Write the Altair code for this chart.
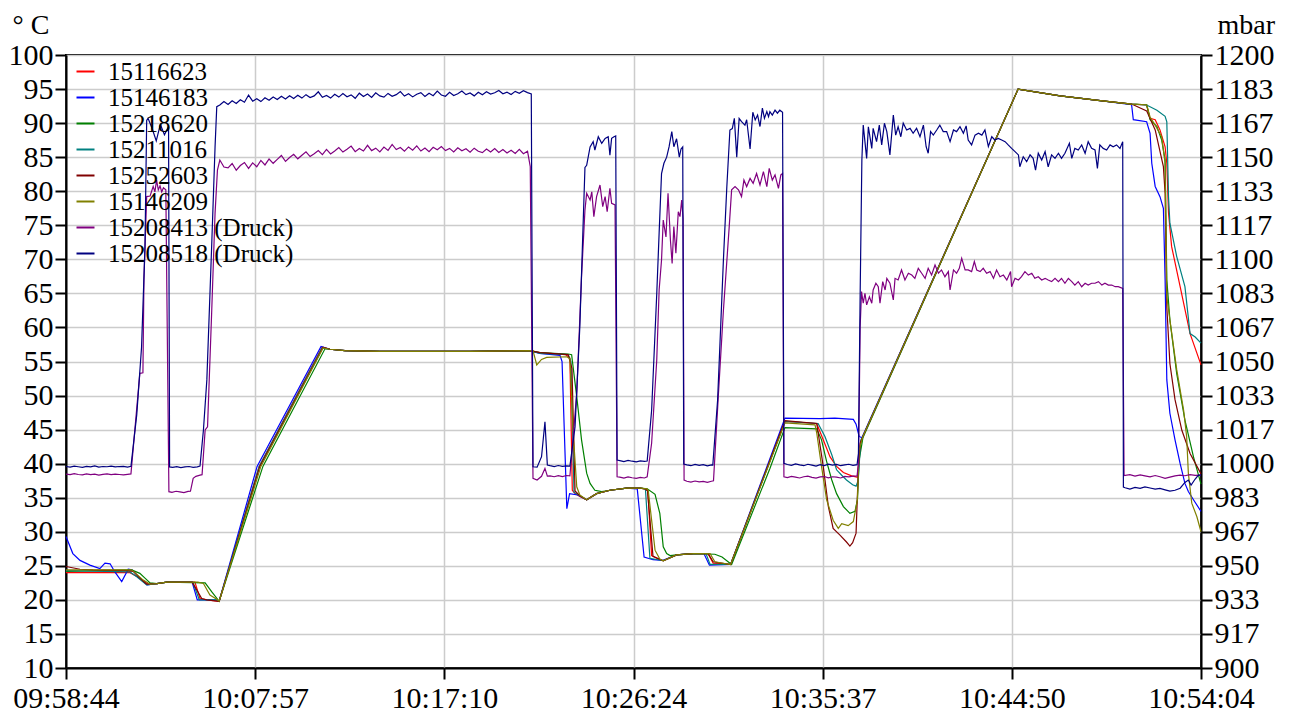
import altair as alt
import pandas as pd

# ---------------------------------------------------------------------------
# Data (time = seconds elapsed since 09:58:44, temperatures in deg C,
# pressures in mbar).  Dense stretches were logged every SAMPLE_S seconds.
# ---------------------------------------------------------------------------
SAMPLE_S = 12


def run(t0, values):
    return [(t0 + SAMPLE_S * i, v) for i, v in enumerate(values)]


SERIES = ["15116623", "15146183", "15218620", "15211016", "15252603",
          "15146209", "15208413 (Druck)", "15208518 (Druck)"]
COLORS = ["#ff0000", "#0000ff", "#008000", "#008080", "#800000",
          "#808000", "#800080", "#000080"]

X_TICK_SECONDS = [0, 553, 1107, 1660, 2213, 2767, 3320]
X_TICK_LABELS = ["09:58:44", "10:07:57", "10:17:10", "10:26:24",
                 "10:35:37", "10:44:50", "10:54:04"]
Y_TICKS_C = [10, 15, 20, 25, 30, 35, 40, 45, 50, 55, 60, 65, 70, 75, 80, 85, 90, 95, 100]
Y_TICK_LABELS_MBAR = ["900", "917", "933", "950", "967", "983", "1000", "1017", "1033",
                      "1050", "1067", "1083", "1100", "1117", "1133", "1150", "1167",
                      "1183", "1200"]

T_15116623 = [(0, 24.0), (187, 24.0), (216, 23.2), (240, 22.3), (266, 22.4), (295, 22.6),
              (377, 22.6), (392, 20.2), (412, 20.0), (448, 19.8), (565, 39.6), (749, 57.1),
              (772, 56.8), (816, 56.6), (918, 56.5), (1182, 56.5), (1357, 56.6), (1386, 56.3),
              (1462, 56.0), (1474, 55.5), (1481, 36.1), (1489, 35.6), (1503, 35.2), (1523, 34.7),
              (1552, 35.6), (1591, 36.1), (1640, 36.4), (1679, 36.4), (1694, 36.3), (1702, 36.0),
              (1713, 26.5), (1737, 25.9), (1747, 25.75), (1786, 26.6), (1835, 26.8), (1878, 26.8),
              (1893, 25.4), (1944, 25.2), (2103, 46.2), (2196, 45.9), (2215, 43.5), (2235, 41.0),
              (2254, 39.6), (2274, 38.7), (2298, 38.2), (2308, 38.1), (2315, 38.0), (2324, 43.0),
              (2331, 44.0), (2785, 95.0), (2908, 94.0), (3025, 93.3), (3117, 92.8), (3161, 92.66),
              (3171, 90.7), (3186, 90.5), (3200, 89.0), (3215, 86.5), (3220, 84.1), (3225, 76.8),
              (3234, 71.9), (3259, 66.0), (3288, 59.1), (3320, 54.5)]

T_15146183 = [(0, 29.3), (20, 26.8), (41, 25.8), (70, 25.1), (99, 24.6), (114, 25.4), (129, 25.3),
              (143, 24.1), (163, 22.7), (182, 24.5), (193, 24.4), (216, 23.2), (237, 22.2),
              (266, 22.4), (295, 22.6), (369, 22.6), (384, 20.0), (439, 20.0), (448, 19.8),
              (559, 39.6), (746, 57.2), (772, 56.8), (816, 56.6), (918, 56.5), (1182, 56.5),
              (1357, 56.6), (1386, 56.2), (1445, 55.9), (1451, 55.0), (1465, 33.4), (1473, 35.6),
              (1497, 35.4), (1523, 34.7), (1552, 35.6), (1591, 36.1), (1640, 36.4), (1671, 36.3),
              (1691, 26.3), (1717, 25.9), (1746, 25.8), (1786, 26.6), (1835, 26.8), (1866, 26.8),
              (1882, 25.1), (1944, 25.2), (2103, 46.7), (2205, 46.6), (2249, 46.7), (2303, 46.5),
              (2311, 45.8), (2320, 44.0), (2328, 43.8), (2785, 95.0), (2908, 94.0), (3025, 93.3),
              (3117, 92.7), (3122, 90.5), (3161, 90.2), (3171, 88.5), (3176, 84.1), (3186, 80.7),
              (3200, 79.2), (3210, 77.5), (3215, 67.0), (3220, 52.3), (3229, 47.4), (3244, 43.5),
              (3259, 40.0), (3273, 37.1), (3283, 35.9), (3298, 34.7), (3320, 33.0)]

T_15218620 = [(0, 24.2), (192, 24.4), (216, 23.9), (231, 23.2), (246, 22.5), (266, 22.4),
              (295, 22.6), (407, 22.5), (426, 21.2), (448, 19.8), (576, 39.6), (758, 56.9),
              (772, 56.8), (816, 56.6), (918, 56.5), (1182, 56.5), (1357, 56.6), (1386, 56.3),
              (1469, 56.1), (1479, 56.0), (1494, 49.8), (1508, 43.5), (1523, 38.6), (1533, 37.1),
              (1547, 36.1), (1567, 35.9), (1582, 36.0), (1591, 36.1), (1640, 36.4), (1679, 36.4),
              (1700, 36.3), (1723, 35.5), (1737, 32.7), (1747, 27.8), (1757, 26.8), (1767, 26.5),
              (1786, 26.6), (1835, 26.8), (1898, 26.7), (1919, 26.3), (1947, 25.2), (2059, 39.3),
              (2103, 45.3), (2196, 45.1), (2210, 43.5), (2225, 40.3), (2240, 37.6), (2254, 35.6),
              (2274, 33.7), (2293, 32.7), (2308, 33.0), (2315, 34.7), (2320, 40.5), (2331, 43.8),
              (2785, 95.0), (2908, 94.0), (3025, 93.3), (3117, 92.8), (3161, 92.7), (3171, 90.5),
              (3191, 89.5), (3205, 87.5), (3215, 84.6), (3220, 67.0), (3229, 61.1), (3249, 53.2),
              (3273, 46.4), (3298, 41.0), (3320, 37.0)]

T_15211016 = [(0, 24.3), (187, 24.1), (207, 23.4), (236, 22.2), (266, 22.4), (295, 22.6),
              (371, 22.6), (390, 20.0), (439, 20.0), (448, 19.8), (565, 39.6), (749, 57.0),
              (772, 56.8), (816, 56.6), (918, 56.5), (1182, 56.5), (1357, 56.6), (1386, 56.2),
              (1469, 56.0), (1477, 55.0), (1486, 35.8), (1503, 35.3), (1523, 34.7), (1552, 35.6),
              (1591, 36.1), (1640, 36.4), (1679, 36.4), (1694, 36.3), (1695, 36.2), (1708, 26.1),
              (1747, 25.75), (1786, 26.6), (1835, 26.8), (1872, 26.8), (1884, 25.2), (1944, 25.2),
              (2103, 46.2), (2200, 45.9), (2220, 44.0), (2240, 41.3), (2254, 39.1), (2269, 38.3),
              (2283, 37.6), (2301, 36.9), (2311, 36.7), (2317, 37.5), (2325, 43.5), (2331, 44.0),
              (2785, 95.0), (2908, 94.0), (3025, 93.3), (3117, 92.8), (3161, 92.66), (3191, 91.9),
              (3215, 91.0), (3220, 90.2), (3225, 79.2), (3229, 75.3), (3249, 70.4), (3273, 66.0),
              (3288, 59.1), (3303, 58.6), (3320, 57.7)]

T_15252603 = [(0, 24.9), (41, 24.5), (79, 24.4), (178, 24.3), (197, 24.2), (216, 23.2),
              (236, 22.3), (266, 22.4), (295, 22.6), (369, 22.6), (382, 21.5), (397, 20.2),
              (412, 20.0), (448, 19.8), (567, 39.6), (752, 57.1), (772, 56.8), (816, 56.6),
              (918, 56.5), (1182, 56.5), (1357, 56.6), (1386, 56.3), (1469, 56.0), (1480, 54.0),
              (1489, 36.0), (1503, 35.3), (1523, 34.7), (1552, 35.6), (1591, 36.1), (1640, 36.4),
              (1679, 36.4), (1694, 36.3), (1701, 36.0), (1717, 26.4), (1747, 25.75), (1786, 26.6),
              (1835, 26.8), (1878, 26.8), (1893, 25.6), (1944, 25.2), (2103, 46.3), (2196, 45.9),
              (2215, 39.6), (2230, 33.7), (2244, 30.5), (2264, 29.5), (2283, 28.5), (2293, 27.9),
              (2301, 28.4), (2311, 29.8), (2318, 39.6), (2323, 43.0), (2331, 44.0), (2785, 95.0),
              (2908, 94.0), (3025, 93.3), (3117, 92.8), (3161, 91.8), (3186, 89.0), (3210, 83.6),
              (3215, 79.7), (3220, 63.0), (3229, 54.7), (3244, 49.4), (3264, 44.9), (3288, 41.5),
              (3320, 38.5)]

T_15146209 = [(0, 24.4), (192, 24.4), (226, 22.9), (246, 22.3), (266, 22.4), (295, 22.6),
              (386, 22.6), (402, 22.4), (421, 20.7), (441, 20.1), (448, 19.8), (570, 39.6),
              (752, 57.0), (772, 56.8), (816, 56.6), (918, 56.5), (1182, 56.5), (1366, 56.6),
              (1377, 54.5), (1391, 55.3), (1406, 55.6), (1465, 55.7), (1474, 55.4), (1483, 45.0),
              (1494, 36.6), (1503, 35.4), (1523, 34.7), (1552, 35.6), (1591, 36.1), (1640, 36.4),
              (1679, 36.4), (1700, 36.3), (1703, 36.1), (1723, 27.3), (1737, 26.0), (1747, 25.75),
              (1786, 26.6), (1835, 26.8), (1884, 26.8), (1898, 25.6), (1944, 25.2), (2103, 46.0),
              (2191, 45.7), (2196, 44.5), (2210, 39.6), (2225, 34.7), (2244, 31.7), (2259, 30.5),
              (2269, 31.2), (2288, 30.9), (2303, 31.5), (2315, 34.7), (2320, 42.0), (2331, 44.0),
              (2785, 95.0), (2908, 94.0), (3025, 93.3), (3117, 92.8), (3161, 92.7), (3171, 90.9),
              (3186, 89.7), (3205, 88.0), (3215, 84.1), (3220, 64.5), (3229, 61.1), (3249, 53.8),
              (3269, 47.9), (3278, 44.0), (3283, 38.6), (3293, 34.2), (3308, 32.2), (3320, 30.0)]

NAVY_PLATEAU_1 = [1175.5, 1177.2, 1175.8, 1177.6, 1176.3, 1178.1, 1176.9, 1180.4, 1177.4,
                  1178.6, 1177.2, 1179.1, 1177.9, 1179.4, 1178.2, 1179.8, 1178.5, 1180.1,
                  1178.7, 1180.3, 1178.9, 1180.6, 1179.2, 1180.0, 1182.0, 1179.3,
                  1180.2, 1178.9, 1180.8, 1179.4, 1181.1, 1179.6, 1180.5, 1178.8, 1181.3,
                  1179.7, 1180.9, 1179.2, 1181.5, 1180.0, 1179.4, 1181.2, 1179.8, 1180.6,
                  1182.1, 1179.9, 1181.0, 1179.5, 1180.8, 1181.6, 1179.7, 1181.3, 1180.1,
                  1182.3, 1180.4, 1179.8, 1181.7, 1180.2, 1181.0, 1182.4, 1180.6, 1181.4,
                  1180.0, 1181.8, 1180.5, 1182.0, 1180.9, 1181.5, 1182.6, 1181.0, 1181.8,
                  1180.7, 1182.2, 1181.3, 1182.5, 1181.6]

NAVY_LATE = [(2332, 1165.7), (2342, 1149.4), (2347, 1164.9), (2357, 1154.3), (2361, 1164.1),
             (2371, 1157.6), (2379, 1165.7), (2386, 1156.0), (2394, 1166.6), (2401, 1162.5),
             (2410, 1151.1), (2420, 1170.6), (2427, 1160.8), (2434, 1164.9), (2442, 1160.0),
             (2449, 1166.6), (2459, 1163.3), (2469, 1164.1), (2478, 1161.7), (2488, 1164.1),
             (2498, 1160.0), (2508, 1165.7), (2516, 1155.1), (2522, 1151.9), (2529, 1162.5),
             (2537, 1160.8), (2547, 1163.3), (2556, 1165.7), (2566, 1162.5), (2576, 1162.5),
             (2586, 1157.6), (2596, 1163.3), (2605, 1162.5), (2615, 1164.9), (2625, 1161.7),
             (2633, 1165.3), (2639, 1158.4), (2649, 1156.0), (2659, 1160.8), (2669, 1161.7),
             (2679, 1160.8), (2688, 1163.3), (2698, 1155.2), (2708, 1160.0), (2717, 1158.4),
             (2727, 1159.2), (2737, 1158.4), (2747, 1157.6), (2756, 1156.0), (2766, 1154.3),
             (2776, 1152.7), (2786, 1151.1), (2790, 1145.3), (2800, 1150.2), (2810, 1147.8),
             (2820, 1151.1), (2829, 1149.4), (2836, 1143.7), (2844, 1151.9), (2854, 1148.6),
             (2864, 1152.7), (2873, 1145.3), (2883, 1151.1), (2893, 1149.4), (2903, 1151.9),
             (2912, 1149.4), (2922, 1151.9), (2935, 1156.8), (2942, 1149.4), (2951, 1154.3),
             (2961, 1153.5), (2971, 1156.0), (2981, 1151.9), (2990, 1157.6), (3000, 1154.3),
             (3010, 1153.5), (3017, 1144.5), (3024, 1156.0), (3034, 1154.3), (3044, 1153.5),
             (3054, 1156.0), (3063, 1155.1), (3073, 1156.0), (3083, 1154.3), (3091, 1157.6)]

P_15208518 = (
    run(0, [998.6, 998.3, 998.8, 998.5, 998.2, 998.7, 998.4, 998.9, 998.3, 998.6, 998.5,
            998.8, 998.4, 998.6, 998.7, 998.3])
    + [(190, 998.7), (207, 1024.0), (221, 1057.0), (231, 1106.0), (236, 1168.0)]
    + run(240, [1169.0, 1164.0, 1158.0, 1166.0, 1161.0, 1165.0])
    + [(303, 998.4)]
    + run(312, [998.2, 998.5, 998.1, 998.4, 998.6, 998.2, 998.4])
    + [(392, 998.8), (402, 1016.5), (412, 1041.0), (426, 1106.0), (436, 1155.0), (441, 1174.7)]
    + run(450, NAVY_PLATEAU_1)
    + [(1361, 1181.0), (1366, 998.5), (1378, 998.3), (1391, 1003.4), (1401, 1020.5),
       (1408, 999.3)]
    + run(1416, [999.0, 998.6, 999.1, 998.7, 998.9])
    + [(1474, 998.8), (1489, 1018.0), (1503, 1067.0), (1518, 1145.0), (1523, 1146.0),
       (1533, 1155.0), (1542, 1157.6), (1547, 1153.5), (1557, 1160.0), (1567, 1156.8),
       (1577, 1159.2), (1586, 1160.0), (1591, 1151.0), (1596, 1159.2), (1603, 1160.0),
       (1608, 1160.4), (1612, 1001.8)]
    + run(1620, [1001.5, 1001.0, 1001.6, 1001.2, 1000.9, 1001.4, 1001.1])
    + [(1700, 1001.3), (1713, 1026.0), (1728, 1083.0), (1735, 1113.0), (1742, 1142.0),
       (1749, 1147.0), (1757, 1150.0), (1764, 1155.0), (1772, 1162.5), (1778, 1155.1),
       (1786, 1159.0), (1794, 1150.0), (1799, 1154.0), (1804, 1155.0), (1807, 999.8)]
    + run(1816, [999.4, 999.0, 999.6, 999.2, 999.5, 998.9, 999.4])
    + [(1892, 999.3), (1906, 1031.0), (1913, 1059.0), (1923, 1099.7), (1933, 1135.5),
       (1942, 1163.3), (1949, 1164.0), (1955, 1169.0), (1962, 1150.0), (1969, 1169.0),
       (1976, 1167.4), (1986, 1165.7), (1991, 1168.3), (2001, 1154.0), (2009, 1172.0),
       (2016, 1168.2), (2023, 1170.6), (2030, 1165.0), (2037, 1174.0), (2043, 1169.0),
       (2050, 1172.3), (2055, 1169.8), (2059, 1172.3), (2066, 1170.6), (2074, 1173.0),
       (2081, 1171.5), (2088, 1173.0), (2096, 1172.0), (2100, 1000.2)]
    + run(2110, [999.6, 999.2, 999.9, 999.4, 999.0, 999.7, 999.3, 998.8, 999.5, 999.1,
                 999.8, 999.3, 999.6, 999.0, 999.4, 999.7, 999.2])
    + [(2314, 999.5), (2318, 1005.0), (2323, 1083.0), (2328, 1148.6)]
    + NAVY_LATE
    + [(3093, 988.5), (3098, 988.2), (3112, 987.6), (3127, 988.4), (3142, 987.9),
       (3156, 988.6), (3171, 988.1), (3186, 987.5), (3200, 987.9), (3215, 987.2),
       (3229, 986.6), (3244, 987.0), (3259, 988.0), (3273, 990.8), (3283, 992.0),
       (3291, 989.5), (3303, 992.5), (3312, 994.3), (3320, 994.5)]
)

PURPLE_PLATEAU_1 = [1144.8, 1146.9, 1143.6, 1145.9, 1147.4, 1144.5,
                    1147.2, 1145.3, 1148.4, 1146.2, 1149.1, 1147.0, 1148.9, 1150.8, 1147.9,
                    1149.8, 1151.4, 1149.2, 1150.9, 1152.6, 1150.3, 1151.7, 1153.2, 1151.2,
                    1153.8, 1151.6, 1153.0, 1154.7, 1152.5, 1153.9, 1155.4, 1152.7, 1154.2,
                    1153.0, 1155.8, 1153.2, 1154.4, 1152.6, 1154.9, 1153.3, 1156.2, 1153.7,
                    1154.7, 1152.9, 1155.0, 1153.4, 1155.5, 1153.0, 1154.5, 1152.7, 1154.8,
                    1153.6, 1155.2, 1153.2, 1154.3, 1152.6, 1154.6, 1153.1, 1154.1, 1152.4,
                    1154.4, 1152.9, 1152.2, 1154.0, 1152.5, 1154.2, 1152.3, 1153.7, 1152.0,
                    1153.4, 1151.8, 1153.8, 1151.7, 1152.9]

PURPLE_LATE = [(2332, 1078.5), (2337, 1083.4), (2342, 1077.7), (2350, 1081.7), (2357, 1078.5),
               (2361, 1085.0), (2369, 1088.3), (2376, 1086.6), (2381, 1078.5), (2389, 1089.1),
               (2396, 1085.0), (2401, 1090.7), (2410, 1088.3), (2420, 1080.1), (2425, 1090.7),
               (2434, 1089.9), (2444, 1094.8), (2454, 1089.9), (2464, 1093.2), (2474, 1092.3),
               (2483, 1090.7), (2493, 1095.6), (2503, 1093.2), (2513, 1090.7), (2522, 1095.6),
               (2532, 1092.3), (2542, 1097.2), (2552, 1093.2), (2561, 1094.8), (2571, 1091.5),
               (2581, 1094.0), (2586, 1085.0), (2596, 1094.8), (2605, 1093.2), (2613, 1095.6),
               (2620, 1100.5), (2630, 1094.8), (2639, 1094.8), (2649, 1094.0), (2657, 1098.9),
               (2664, 1094.8), (2674, 1094.0), (2683, 1095.6), (2693, 1093.2), (2703, 1094.0),
               (2713, 1090.7), (2722, 1094.8), (2732, 1091.5), (2742, 1092.3), (2752, 1089.9),
               (2763, 1094.0), (2766, 1086.6), (2776, 1090.7), (2786, 1089.9), (2795, 1091.5),
               (2805, 1094.0), (2815, 1092.3), (2825, 1093.2), (2834, 1090.7), (2844, 1091.5),
               (2854, 1089.9), (2864, 1090.7), (2873, 1089.9), (2883, 1089.1), (2893, 1090.7),
               (2903, 1089.1), (2912, 1090.7), (2922, 1088.3), (2932, 1090.7), (2942, 1089.1),
               (2951, 1087.4), (2961, 1089.1), (2971, 1086.6), (2981, 1088.3), (2990, 1087.4),
               (3000, 1088.3), (3010, 1088.3), (3020, 1089.1), (3030, 1087.4), (3039, 1088.3),
               (3049, 1087.4), (3059, 1087.4), (3069, 1086.6), (3078, 1086.6), (3091, 1085.8)]

P_15208413 = (
    run(0, [994.9, 994.6, 995.1, 994.7, 994.5, 995.0, 994.6, 994.9, 994.4, 994.8, 995.0,
            994.6, 994.9, 994.7, 994.5, 994.8])
    + [(190, 995.0), (216, 1044.2), (225, 1044.5), (228, 1090.0), (236, 1130.7),
       (246, 1131.0), (255, 1135.7), (260, 1133.0), (265, 1138.8), (270, 1134.0),
       (275, 1136.0), (280, 1133.0), (285, 1135.0), (292, 1134.0), (301, 986.3),
       (310, 986.0), (322, 986.5), (333, 986.2), (345, 985.8), (357, 986.4), (364, 986.5),
       (372, 992.8), (380, 993.8), (392, 994.4), (398, 994.6), (407, 1016.5), (414, 1018.0),
       (426, 1073.6), (436, 1122.5), (443, 1143.7), (450, 1148.6), (462, 1145.2)]
    + run(474, PURPLE_PLATEAU_1)
    + [(1358, 1145.4), (1366, 992.8), (1378, 992.0), (1391, 993.8), (1401, 997.7),
       (1408, 993.9)]
    + run(1416, [994.0, 993.6, 994.1, 993.7, 994.2])
    + [(1474, 994.0), (1494, 1034.4), (1508, 1091.5), (1518, 1124.1), (1523, 1132.3),
       (1533, 1129.0), (1538, 1133.0), (1544, 1120.9), (1552, 1130.7), (1562, 1136.4),
       (1570, 1125.8), (1577, 1130.7), (1583, 1123.3), (1591, 1134.8), (1596, 1127.4),
       (1606, 1126.6), (1612, 993.6)]
    + run(1620, [993.4, 992.9, 993.5, 993.1, 992.8, 993.3, 993.0])
    + [(1700, 993.6), (1713, 1010.0), (1728, 1050.7), (1735, 1085.0), (1742, 1099.7),
       (1747, 1119.2), (1755, 1111.0), (1761, 1132.3), (1768, 1109.5), (1773, 1098.0),
       (1778, 1116.0), (1784, 1103.0), (1791, 1123.3), (1796, 1120.9), (1801, 1129.0),
       (1805, 1120.0), (1808, 992.0)]
    + run(1816, [991.4, 991.0, 991.5, 991.1, 991.3, 990.9, 991.4])
    + [(1894, 991.6), (1908, 1032.8), (1923, 1075.0), (1940, 1116.0), (1947, 1134.0),
       (1957, 1135.6), (1967, 1134.0), (1976, 1130.7), (1983, 1138.8), (1991, 1135.6),
       (2001, 1139.6), (2010, 1137.2), (2020, 1142.0), (2030, 1136.4), (2040, 1142.9),
       (2050, 1135.6), (2057, 1144.5), (2066, 1138.8), (2074, 1141.3), (2084, 1134.7),
       (2091, 1141.3), (2096, 1142.0), (2100, 993.6)]
    + run(2110, [993.2, 993.8, 993.4, 993.0, 993.6, 993.9, 993.3, 992.9, 993.5, 993.7,
                 993.1, 993.6, 993.4, 993.0, 993.8, 993.5, 993.9])
    + [(2314, 994.0), (2318, 1000.0), (2323, 1067.0), (2327, 1084.2)]
    + PURPLE_LATE
    + [(3095, 994.2), (3112, 994.6), (3127, 993.9), (3142, 994.5), (3156, 994.0),
       (3171, 993.5), (3186, 994.2), (3200, 993.6), (3215, 992.8), (3229, 993.4),
       (3244, 994.0), (3259, 994.4), (3273, 994.1), (3288, 994.6), (3303, 994.3),
       (3320, 994.4)]
)

TEMPERATURE = {
    "15116623": T_15116623,
    "15146183": T_15146183,
    "15218620": T_15218620,
    "15211016": T_15211016,
    "15252603": T_15252603,
    "15146209": T_15146209,
}
PRESSURE = {
    "15208413 (Druck)": P_15208413,
    "15208518 (Druck)": P_15208518,
}

# ---------------------------------------------------------------------------
temp_df = pd.DataFrame([{"series": s, "t": t, "v": v}
                        for s, pts in TEMPERATURE.items() for t, v in pts])
press_df = pd.DataFrame([{"series": s, "t": t, "v": v}
                         for s, pts in PRESSURE.items() for t, v in pts])

FONT = "Liberation Serif"

x_label_expr = "".join(
    f"round(datum.value) == {t} ? '{lab}' : " for t, lab in zip(X_TICK_SECONDS, X_TICK_LABELS)
) + "''"
y2_tick_values = [900 + i * 300 / 18 for i in range(len(Y_TICK_LABELS_MBAR))]
y2_label_expr = "".join(
    f"round((datum.value - 900) * 18 / 300) == {i} ? '{lab}' : "
    for i, lab in enumerate(Y_TICK_LABELS_MBAR)
) + "''"

color = alt.Color(
    "series:N",
    scale=alt.Scale(domain=SERIES, range=COLORS),
    sort=SERIES,
    legend=alt.Legend(
        title=None, orient="none", legendX=7, legendY=4,
        symbolType="stroke", symbolSize=324, symbolStrokeWidth=2,
        labelFont=FONT, labelFontSize=25, labelColor="black",
        labelOffset=10, rowPadding=-0.8, padding=0, labelLimit=0,
    ),
)

x_enc = alt.X(
    "t:Q",
    scale=alt.Scale(domain=[0, 3320], nice=False, zero=False),
    axis=alt.Axis(values=X_TICK_SECONDS, labelExpr=x_label_expr, title=None,
                  grid=True, labelFlush=False, labelOverlap=False, labelPadding=4),
)

temp = alt.Chart(temp_df).mark_line(strokeWidth=1.2).encode(
    x=x_enc,
    y=alt.Y(
        "v:Q",
        scale=alt.Scale(domain=[10, 100], nice=False, zero=False),
        axis=alt.Axis(orient="left", values=Y_TICKS_C, title="° C", titleAngle=0,
                      titleAlign="left", titleBaseline="alphabetic", titleX=-54, titleY=-22,
                      titleFontSize=28,
                      grid=True, labelOverlap=False, labelPadding=2),
    ),
    color=color,
)

press = alt.Chart(press_df).mark_line(strokeWidth=1.2).encode(
    x=x_enc,
    y=alt.Y(
        "v:Q",
        scale=alt.Scale(domain=[900, 1200], nice=False, zero=False),
        axis=alt.Axis(orient="right", values=y2_tick_values, labelExpr=y2_label_expr,
                      title="mbar", titleAngle=0, titleAlign="left",
                      titleBaseline="alphabetic", titleX=16, titleY=-22,
                      titleFontSize=28,
                      grid=False, labelOverlap=False, labelPadding=2),
    ),
    color=color,
)

chart = (
    alt.layer(temp, press)
    .resolve_scale(y="independent")
    .properties(
        width=1135, height=613,
        padding={"left": 58, "top": 47, "right": 84, "bottom": 48},
        autosize=alt.AutoSizeParams(type="none"),
        background="white",
    )
    .configure(font=FONT)
    .configure_view(stroke="black", strokeWidth=2)
    .configure_axis(
        domainColor="black", domainWidth=2, tickColor="black", tickWidth=2, tickSize=11,
        labelFont=FONT, labelFontSize=30, labelColor="black",
        titleFont=FONT, titleFontSize=30, titleFontWeight="normal", titleColor="black",
        gridColor="#cccccc", gridWidth=1.5,
    )
)

chart.save("out.html", embed_options={"renderer": "svg", "actions": False})
